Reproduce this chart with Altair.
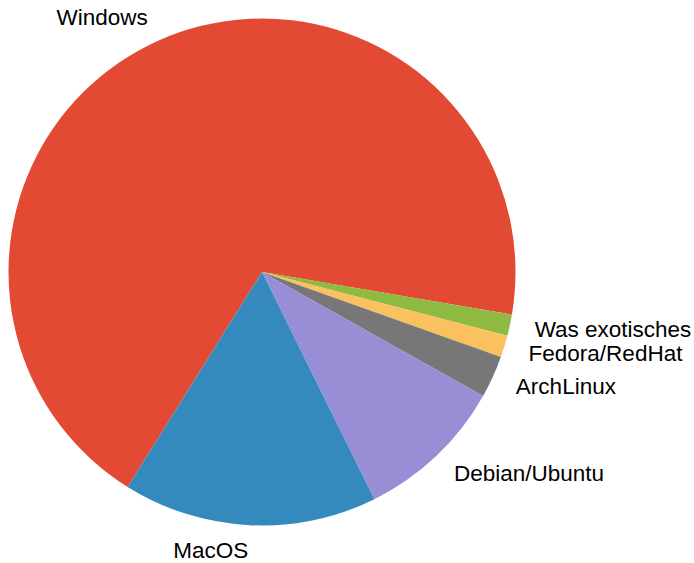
import math
import altair as alt
import pandas as pd

names = ["Windows", "Was exotisches", "Fedora/RedHat", "ArchLinux", "Debian/Ubuntu", "MacOS"]
values = [68.8, 1.35, 1.4, 2.7, 9.55, 16.2]
colors = ["#E24A33", "#8EBA42", "#FBC15E", "#777777", "#988ED5", "#348ABD"]

START = -148.0 * math.pi / 180.0
RANGE = [START, START + 2 * math.pi]
R = 253.5

df = pd.DataFrame({"name": names, "value": values, "order": list(range(len(names)))})

base = alt.Chart(df)

theta_scale = alt.Scale(domain=[0, 100], range=RANGE)

arcs = base.mark_arc(radius=R, strokeWidth=0).encode(
    theta=alt.Theta("value:Q", stack=True, scale=theta_scale),
    order=alt.Order("order:Q"),
    color=alt.Color("name:N", scale=alt.Scale(domain=names, range=colors), legend=None),
)

lab = base.transform_window(
    cum="sum(value)", sort=[alt.SortField("order")], frame=[None, 0]
).transform_calculate(
    mid="datum.cum - datum.value / 2",
).transform_calculate(
    ang=f"{START} + datum.mid / 100 * 2 * PI",
).transform_calculate(
    side="sin(datum.ang) >= 0 ? 'right' : 'left'"
)

def text_layer(side, align):
    return lab.transform_filter(f"datum.side == '{side}'").mark_text(
        radius=R * 1.1, align=align, baseline="middle",
        font="Liberation Sans", fontSize=22.5, color="#000000",
    ).encode(
        theta=alt.Theta("mid:Q", stack=False, scale=theta_scale),
        text="name:N",
    )

chart = alt.layer(arcs, text_layer("right", "left"), text_layer("left", "right")).properties(
    width=524, height=544,
    autosize=alt.AutoSizeParams(type="none"),
    padding={"left": 0, "top": 0, "right": 170, "bottom": 19},
).configure_view(stroke=None)

chart.save("out.html", embed_options={"renderer": "svg", "actions": False})
